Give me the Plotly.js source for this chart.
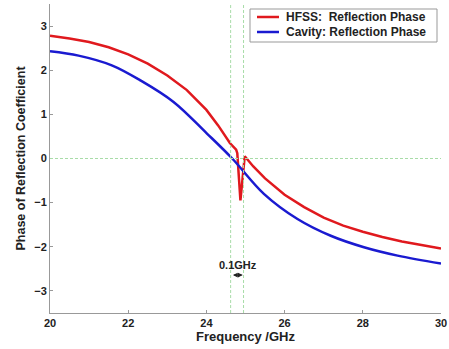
<!DOCTYPE html>
<html><head><meta charset="utf-8">
<script src="https://cdn.plot.ly/plotly-3.0.1.min.js"></script>
<style>body{margin:0;background:#fff}#c{width:449px;height:349px}</style>
</head><body><div id="c"></div>
<script>
const hfssFreq  = [20, 20.5, 21, 21.5, 22, 22.5, 23, 23.5, 24, 24.3, 24.6, 24.76, 24.79, 24.87, 24.98, 25.2, 25.5, 26, 26.5, 27, 27.5, 28, 28.5, 29, 29.5, 30];
const hfssPhase = [2.78, 2.72, 2.64, 2.52, 2.36, 2.15, 1.88, 1.55, 1.10, 0.75, 0.35, 0.20, 0.12, -0.95, 0.05, -0.18, -0.45, -0.82, -1.10, -1.34, -1.52, -1.66, -1.78, -1.88, -1.96, -2.04];
const cavFreq   = [20, 20.73, 21.58, 22.31, 23.16, 24.02, 24.66, 25.47, 26.33, 27.18, 28.03, 28.89, 30];
const cavPhase  = [2.43, 2.33, 2.11, 1.77, 1.28, 0.56, 0.0, -0.80, -1.37, -1.75, -2.01, -2.20, -2.38];
const seriesNames = ['HFSS:  Reflection Phase', 'Cavity: Reflection Phase'];
const seriesColors = ['#e0191e', '#1a1ad0'];
const markerLines = [24.62, 24.95];
const xTicks = [20, 22, 24, 26, 28, 30];
const yTicks = [-3, -2, -1, 0, 1, 2, 3];

const fam = 'Liberation Sans, Arial, sans-serif';
const F = {family: fam, size: 11, color: '#222', weight: 'bold'};
const green = '#a8dca8';
const shapes = markerLines.map(x => ({type:'line', xref:'x', yref:'paper', x0:x, x1:x, y0:0, y1:1,
  line:{color:green, width:1, dash:'3px,2px'}}));
shapes.push({type:'line', xref:'paper', yref:'y', x0:0, x1:1, y0:0, y1:0, line:{color:green, width:1, dash:'3px,2px'}});

// manual legend (pixel -> paper conversion)
const L = 50, W = 391, T = 4, H = 309;
const px = v => (v - L) / W, py = v => (T + H - v) / H;
shapes.push({type:'rect', xref:'paper', yref:'paper', x0:px(250), x1:px(437), y0:py(9), y1:py(42),
  line:{color:'#999', width:1}, fillcolor:'#fff', layer:'above'});
const annotations = [];
[17, 32].forEach((yy, i) => {
  shapes.push({type:'line', xref:'paper', yref:'paper', x0:px(257), x1:px(279), y0:py(yy), y1:py(yy),
    line:{color:seriesColors[i], width:2.5}, layer:'above'});
  annotations.push({xref:'paper', yref:'paper', x:px(284), y:py(yy), xanchor:'left', yanchor:'middle',
    text:seriesNames[i], showarrow:false, font:{family:fam, size:12, color:'#222', weight:'bold'}});
});
annotations.push({x:24.8, y:-2.41, xref:'x', yref:'y', text:'0.1GHz', showarrow:false, font:{family:fam, size:11, color:'#222', weight:'bold'}});
annotations.push({x:24.93, y:-2.64, ax:24.64, ay:-2.64, xref:'x', yref:'y', axref:'x', ayref:'y', text:'', showarrow:true,
     arrowhead:2, startarrowhead:2, arrowside:'end+start', arrowsize:0.8, arrowwidth:1.2, arrowcolor:'#222'});

Plotly.newPlot('c', [
  {x: hfssFreq, y: hfssPhase, mode:'lines', name:seriesNames[0], line:{color:seriesColors[0], width:2.5}},
  {x: cavFreq, y: cavPhase, mode:'lines', name:seriesNames[1], line:{color:seriesColors[1], width:2.5, shape:'spline'}}
], {
  width: 449, height: 349,
  margin: {l:L, r:8, t:T, b:36},
  paper_bgcolor:'#fff', plot_bgcolor:'#fff',
  font: F,
  showlegend: false,
  xaxis: {range:[20,30], tickvals:xTicks, ticks:'inside', ticklen:3, tickcolor:'#999', showgrid:false, zeroline:false,
    showline:true, linecolor:'#999', linewidth:1, mirror:false, tickfont:F,
    title:{text:'Frequency /GHz', font:{family:fam, size:13, color:'#222', weight:'bold'}, standoff:2}},
  yaxis: {range:[-3.5,3.5], tickvals:yTicks, ticks:'inside', ticklen:3, tickcolor:'#999', showgrid:false, zeroline:false,
    showline:true, linecolor:'#999', linewidth:1, mirror:false, tickfont:F,
    title:{text:'Phase of Reflection Coefficient', font:{family:fam, size:12.5, color:'#222', weight:'bold'}, standoff:5}},
  shapes: shapes,
  annotations: annotations
}, {displayModeBar:false, staticPlot:true});
</script></body></html>
